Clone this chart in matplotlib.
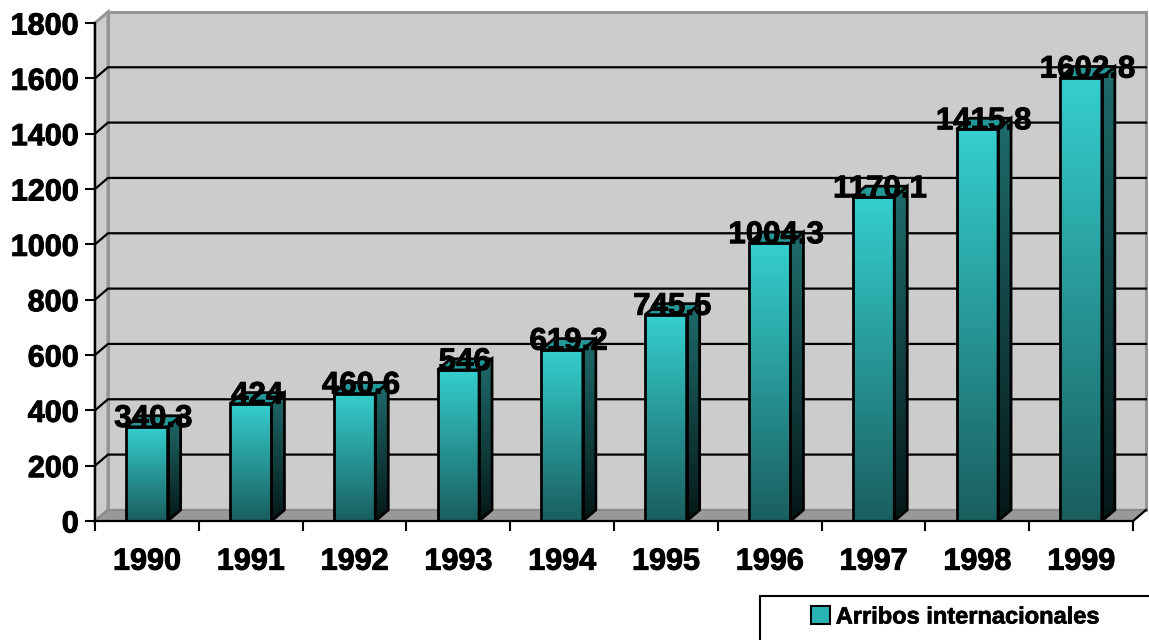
import numpy as np
import matplotlib
matplotlib.use('Agg')
import matplotlib.pyplot as plt
import matplotlib.patheffects as pe
from matplotlib.patches import Polygon, Rectangle, Patch
from matplotlib.colors import to_rgb

plt.rcParams.update({
    'font.family': 'Liberation Sans',
    'font.weight': 'bold',
})

YEARS = ['1990', '1991', '1992', '1993', '1994',
         '1995', '1996', '1997', '1998', '1999']
ARRIVALS = [340.3, 424, 460.6, 546, 619.2, 745.5, 1004.3, 1170.1, 1415.8, 1602.8]
Y_TICKS = list(range(0, 1801, 200))
SERIES_NAME = 'Arribos internacionales'

# pseudo-3D: offset of the back plane, in data units
DX, DY = 0.125, 40
BAR_LEFT, BAR_RIGHT = 0.30, 0.70
YMAX = 1800

# a hair of stroke so the bold text reads as heavy as the office renderer
HEAVY = [pe.withStroke(linewidth=0.7, foreground='black')]


def vgrad(c_bottom, c_top, n=256):
    b = np.array(to_rgb(c_bottom))
    t = np.array(to_rgb(c_top))
    s = np.linspace(0, 1, n)[:, None]
    return (b + (t - b) * s)[:, None, :]


fig = plt.figure(figsize=(11.49, 6.4), dpi=100)
ax = fig.add_axes([95 / 1149, 119 / 640, 1038 / 1149, 498 / 640])
ax.set_facecolor('none')
n = len(YEARS)

# walls and floor
ax.add_patch(Polygon([(DX, DY), (n + DX, DY), (n + DX, YMAX + DY), (DX, YMAX + DY)],
                     fc='#CCCCCC', ec='#969696', lw=2.2, zorder=0, clip_on=False))
ax.add_patch(Polygon([(0, 0), (DX, DY), (DX, YMAX + DY), (0, YMAX)],
                     fc='#CCCCCC', ec='#969696', lw=2.2, zorder=0, clip_on=False))
ax.add_patch(Polygon([(0, 0), (n, 0), (n + DX, DY), (DX, DY)],
                     fc='#999999', ec='#8A8A8A', lw=1.5, zorder=1, clip_on=False))
ax.plot([n, n + DX], [0, DY], color='black', lw=1.5, zorder=1.2, clip_on=False)

# gridlines on side wall and back wall
for v in Y_TICKS[1:-1]:
    ax.plot([0, DX, n + DX], [v, v + DY, v + DY], color='black', lw=1.6,
            zorder=1.5, clip_on=False, solid_joinstyle='miter')

# bars
for i, v in enumerate(ARRIVALS):
    x0, x1 = i + BAR_LEFT, i + BAR_RIGHT
    ax.imshow(vgrad('#1A5E5E', '#35CFCF'), extent=[x0, x1, 0, v], origin='lower',
              aspect='auto', interpolation='bilinear', zorder=3)
    ax.add_patch(Rectangle((x0, 0), x1 - x0, v, fill=False, ec='black', lw=2, zorder=3.5))

    side = Polygon([(x1, 0), (x1 + DX, DY), (x1 + DX, v + DY), (x1, v)],
                   fc='none', ec='black', lw=2, zorder=3.5)
    ax.add_patch(side)
    im = ax.imshow(vgrad('#051717', '#1F6C6C'), extent=[x1, x1 + DX, 0, v + DY],
                   origin='lower', aspect='auto', interpolation='bilinear', zorder=3)
    im.set_clip_path(side)

    ax.add_patch(Polygon([(x0, v), (x1, v), (x1 + DX, v + DY), (x0 + DX, v + DY)],
                         fc='#249797', ec='black', lw=2, zorder=3.5))

    ax.text(i + 0.5 + DX / 2, v, f'{v:g}', ha='center', va='baseline',
            fontsize=22.5, fontweight='bold', zorder=5, path_effects=HEAVY)

ax.set_xlim(0, n)
ax.set_ylim(0, YMAX)

for s in ['top', 'right']:
    ax.spines[s].set_visible(False)
for s in ['left', 'bottom']:
    ax.spines[s].set_linewidth(1.6)
    ax.spines[s].set_color('black')
    ax.spines[s].set_zorder(4)

ax.set_yticks(Y_TICKS)
ax.tick_params(axis='y', direction='out', length=7.2, width=1.5, pad=4.5, labelsize=22)
ax.set_xticks(range(n + 1))
ax.set_xticklabels([])
ax.set_xticks(np.arange(n) + 0.5, minor=True)
ax.set_xticklabels(YEARS, minor=True)
ax.tick_params(axis='x', which='major', direction='out', length=7.5, width=1.5)
ax.tick_params(axis='x', which='minor', length=0, pad=18.5, labelsize=22)
for lbl in ax.get_yticklabels() + ax.get_xticklabels(minor=True):
    lbl.set_path_effects(HEAVY)

# legend box, running off the lower right corner
fig.add_artist(Rectangle((760 / 1149, -0.05), 0.5, 1 - 596 / 640 + 0.05,
                         transform=fig.transFigure, fill=False, ec='black', lw=1.5))
handle = Patch(fc='#2AB3B3', ec='black', lw=1.5)
leg = fig.legend([handle], [SERIES_NAME], loc='center left',
                 bbox_to_anchor=(811 / 1149, 1 - 617 / 640), frameon=False,
                 fontsize=17, handlelength=0.8, handleheight=0.8, handletextpad=0.25,
                 borderpad=0, borderaxespad=0)
for t in leg.get_texts():
    t.set_path_effects([pe.withStroke(linewidth=0.5, foreground='black')])

fig.savefig('out.png', dpi=100, facecolor='white')
